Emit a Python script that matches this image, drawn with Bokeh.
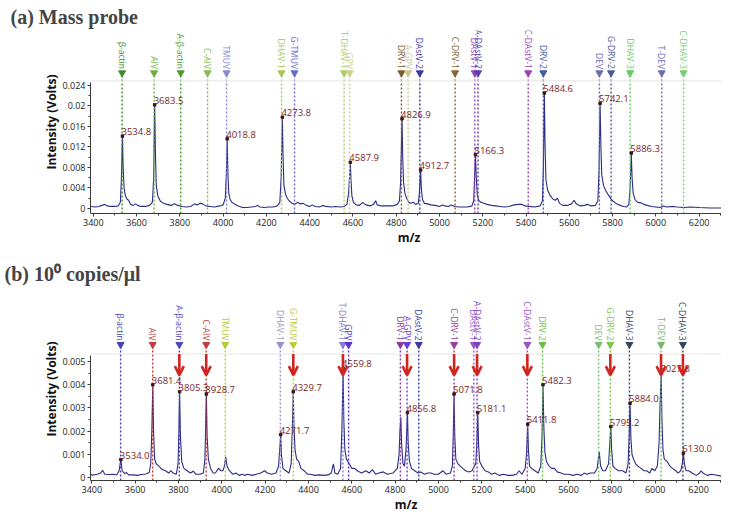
import numpy as np
from bokeh.plotting import figure
from bokeh.layouts import column
from bokeh.models import (ColumnDataSource, FixedTicker, Span, Arrow, OpenHead,
                          Range1d, NumeralTickFormatter, Title)
from bokeh.embed import file_html
from bokeh.resources import INLINE
from bokeh.core.properties import value

# ---------------- data ----------------
marker_names = ["β-actin", "AIV", "A-β-actin", "C-AIV", "TMUV", "DHAV-1", "G-TMUV",
                "T-DHAV-1", "GPV", "DRV-1", "A-GPV", "DAstV-2", "C-DRV-1", "DAstV-1",
                "A-DAstV-2", "C-DAstV-1", "DRV-2", "DEV", "G-DRV-2", "DHAV-3", "T-DEV",
                "C-DHAV-3"]
marker_mz = [3533, 3681, 3804, 3928, 4016, 4270, 4330, 4559, 4585, 4824, 4855, 4909,
             5072, 5163, 5178, 5410, 5480, 5739, 5793, 5881, 6027, 6128]

marker_colors_a = ["#3c8c28", "#6fae3c", "#4b9a2c", "#86b84e", "#8787d8", "#a6c552",
                   "#6b6bcf", "#a9cc63", "#cfd08a", "#7b5b2b", "#c9c78e", "#3b3ba6",
                   "#86652f", "#9440b4", "#5a3db0", "#9d3fb0", "#3a5ba3", "#6a6ab0",
                   "#4a5a95", "#5ccf5c", "#6b6bb4", "#6dd36d"]
marker_colors_b = ["#4a3fb5", "#c23a3a", "#4e4ab8", "#c23a3a", "#b5c83a", "#9e8fd0",
                   "#bccb3a", "#8a7ad0", "#5a32d4", "#8c3a9c", "#6a3ad4", "#3a3aa0",
                   "#9a3aa0", "#9a5ac8", "#7a44c4", "#9a52c8", "#6ac046", "#78c070",
                   "#76c84a", "#34465e", "#78b868", "#34465e"]

arrow_targets = ["A-β-actin", "C-AIV", "G-TMUV", "T-DHAV-1", "A-GPV", "C-DRV-1",
                 "A-DAstV-2", "C-DAstV-1", "G-DRV-2", "T-DEV", "C-DHAV-3"]

peak_a_mz = [3534.8, 3683.5, 4018.8, 4273.8, 4587.9, 4826.9, 4912.7, 5166.3, 5484.6,
             5742.1, 5886.3]
peak_a_v = [0.0141, 0.0202, 0.0136, 0.0178, 0.0090, 0.0175, 0.0075, 0.0105, 0.0225,
            0.0205, 0.0108]

peak_b_mz = [3534.0, 3681.4, 3805.3, 3928.7, 4271.7, 4329.7, 4559.8, 4856.8, 5071.8,
             5181.1, 5411.8, 5482.3, 5795.2, 5884.0, 6027.8, 6130.0]
peak_b_v = [0.00078, 0.0040, 0.0037, 0.0036, 0.00185, 0.0037, 0.0047, 0.0028, 0.0036,
            0.0028, 0.0023, 0.0040, 0.0022, 0.0032, 0.0045, 0.00105]

spec_a_mz = [3390, 3410, 3425, 3440, 3452, 3465, 3480, 3500, 3515, 3525, 3530, 3534.8,
             3538, 3542, 3548, 3556, 3563, 3572, 3585, 3595, 3605, 3620, 3640, 3660,
             3673, 3679, 3683.5, 3687, 3691, 3698, 3710, 3725, 3740, 3760, 3775, 3790,
             3810, 3830, 3850, 3868, 3880, 3895, 3905, 3920, 3940, 3960, 3985, 4000,
             4010, 4015, 4018.8, 4022, 4026, 4032, 4040, 4055, 4070, 4090, 4110, 4130,
             4150, 4158, 4170, 4190, 4210, 4230, 4250, 4262, 4268, 4273.8, 4277, 4281,
             4288, 4296, 4305, 4318, 4330, 4345, 4355, 4370, 4385, 4400, 4412, 4425,
             4445, 4460, 4475, 4500, 4520, 4540, 4560, 4572, 4580, 4587.9, 4591, 4595,
             4602, 4615, 4630, 4645, 4660, 4680, 4695, 4705, 4712, 4730, 4760, 4785,
             4805, 4815, 4820, 4826.9, 4830, 4834, 4840, 4848, 4858, 4866, 4880, 4890,
             4902, 4907, 4912.7, 4916, 4921, 4930, 4945, 4960, 4980, 5000, 5015, 5025,
             5040, 5055, 5070, 5090, 5110, 5130, 5150, 5158, 5162, 5166.3, 5170, 5175,
             5182, 5192, 5205, 5220, 5240, 5260, 5280, 5300, 5320, 5345, 5365, 5380,
             5395, 5415, 5440, 5465, 5476, 5480, 5484.6, 5488, 5492, 5500, 5512, 5525,
             5535, 5545, 5555, 5570, 5590, 5610, 5622, 5632, 5650, 5670, 5685, 5700,
             5720, 5732, 5737, 5742.1, 5746, 5750, 5758, 5768, 5778, 5790, 5800, 5815,
             5830, 5850, 5865, 5875, 5881, 5886.3, 5890, 5895, 5903, 5915, 5930, 5945,
             5960, 5980, 6000, 6020, 6035, 6050, 6080, 6100, 6130, 6160, 6200, 6250,
             6300, 6331]
spec_a_v = [0.0004, 0.0003, 0.0004, 0.0006, 0.0008, 0.0005, 0.0004, 0.0004, 0.0005,
            0.0012, 0.0060, 0.0141, 0.0080, 0.0040, 0.0025, 0.0018, 0.0016, 0.0008,
            0.0006, 0.0009, 0.0006, 0.0004, 0.0004, 0.0006, 0.0012, 0.0060, 0.0202,
            0.0110, 0.0045, 0.0025, 0.0014, 0.0010, 0.0008, 0.0006, 0.0009, 0.0006,
            0.0004, 0.0003, 0.0004, 0.0009, 0.0007, 0.0010, 0.0009, 0.0005, 0.0004,
            0.0003, 0.0005, 0.0007, 0.0020, 0.0070, 0.0136, 0.0070, 0.0030, 0.0018,
            0.0012, 0.0008, 0.0005, 0.0002, 0.0002, 0.0003, 0.0004, 0.0006, 0.0003,
            0.0002, 0.0003, 0.0003, 0.0005, 0.0012, 0.0060, 0.0178, 0.0100, 0.0045,
            0.0028, 0.0020, 0.0015, 0.0010, 0.0008, 0.0012, 0.0009, 0.0010, 0.0006,
            0.0004, 0.0007, 0.0004, 0.0003, 0.0006, 0.0004, 0.0003, 0.0004, 0.0003,
            0.0004, 0.0008, 0.0030, 0.0090, 0.0055, 0.0025, 0.0012, 0.0007, 0.0006,
            0.0012, 0.0007, 0.0005, 0.0008, 0.0015, 0.0007, 0.0005, 0.0005, 0.0005,
            0.0008, 0.0015, 0.0050, 0.0175, 0.0100, 0.0050, 0.0030, 0.0020, 0.0012,
            0.0010, 0.0012, 0.0008, 0.0010, 0.0030, 0.0075, 0.0040, 0.0018, 0.0010,
            0.0009, 0.0007, 0.0006, 0.0004, 0.0007, 0.0005, 0.0004, 0.0007, 0.0004,
            0.0003, 0.0003, 0.0003, 0.0005, 0.0015, 0.0060, 0.0105, 0.0060, 0.0025,
            0.0015, 0.0012, 0.0010, 0.0008, 0.0006, 0.0005, 0.0004, 0.0003, 0.0004,
            0.0007, 0.0008, 0.0008, 0.0005, 0.0004, 0.0003, 0.0005, 0.0015, 0.0080,
            0.0225, 0.0120, 0.0055, 0.0035, 0.0025, 0.0018, 0.0016, 0.0020, 0.0010,
            0.0006, 0.0006, 0.0009, 0.0016, 0.0009, 0.0005, 0.0006, 0.0008, 0.0005,
            0.0006, 0.0015, 0.0070, 0.0205, 0.0120, 0.0065, 0.0045, 0.0035, 0.0028,
            0.0020, 0.0015, 0.0010, 0.0007, 0.0004, 0.0003, 0.0008, 0.0040, 0.0108,
            0.0060, 0.0030, 0.0018, 0.0012, 0.0011, 0.0008, 0.0006, 0.0004, 0.0003,
            0.0002, 0.0005, 0.0003, 0.0004, 0.0003, 0.0002, 0.0003, 0.0002, 0.0001,
            0.0001, 0.0001]

spec_b_mz = [3394, 3410, 3425, 3440, 3450, 3460, 3480, 3500, 3515, 3526, 3534.0, 3540,
             3550, 3560, 3570, 3590, 3610, 3630, 3650, 3665, 3672, 3677, 3681.4, 3685,
             3690, 3697, 3710, 3725, 3740, 3755, 3765, 3775, 3790, 3798, 3802, 3805.3,
             3809, 3815, 3825, 3840, 3855, 3868, 3880, 3900, 3915, 3922, 3925, 3928.7,
             3932, 3938, 3948, 3960, 3970, 3985, 3995, 4005, 4012, 4018, 4024, 4035,
             4050, 4065, 4080, 4095, 4105, 4120, 4140, 4160, 4180, 4198, 4210, 4230,
             4250, 4262, 4267, 4271.7, 4275, 4282, 4295, 4310, 4320, 4325, 4329.7, 4333,
             4338, 4345, 4355, 4365, 4380, 4395, 4410, 4430, 4450, 4470, 4490, 4505,
             4515, 4522, 4535, 4548, 4554, 4559.8, 4563, 4568, 4575, 4588, 4600, 4612,
             4625, 4645, 4665, 4680, 4695, 4710, 4725, 4745, 4765, 4790, 4810, 4818,
             4822, 4826, 4830, 4836, 4843, 4850, 4856.8, 4860, 4866, 4875, 4890, 4905,
             4918, 4935, 4950, 4965, 4980, 5000, 5020, 5035, 5055, 5064, 5068, 5071.8,
             5075, 5080, 5090, 5100, 5112, 5125, 5140, 5155, 5165, 5172, 5177, 5181.1,
             5185, 5190, 5200, 5215, 5230, 5245, 5260, 5280, 5300, 5320, 5340, 5360,
             5372, 5385, 5400, 5406, 5411.8, 5415, 5420, 5430, 5445, 5460, 5472, 5478,
             5482.3, 5486, 5491, 5498, 5510, 5522, 5535, 5548, 5565, 5580, 5600, 5620,
             5640, 5660, 5672, 5685, 5700, 5720, 5732, 5742, 5748, 5758, 5770, 5785,
             5790, 5795.2, 5799, 5805, 5815, 5830, 5850, 5865, 5875, 5880, 5884.0, 5888,
             5893, 5900, 5910, 5920, 5935, 5948, 5960, 5975, 5985, 5998, 6010, 6018,
             6022, 6027.8, 6031, 6036, 6042, 6055, 6068, 6080, 6095, 6105, 6118, 6125,
             6130.0, 6135, 6142, 6155, 6170, 6190, 6205, 6212, 6220, 6240, 6260, 6280,
             6300, 6324]
spec_b_v = [0.00012, 0.00012, 0.00015, 0.00020, 0.00032, 0.00015, 0.00014, 0.00015,
            0.00012, 0.00030, 0.00078, 0.00030, 0.00018, 0.00022, 0.00012, 0.00012,
            0.00010, 0.00014, 0.00016, 0.00022, 0.0006, 0.0020, 0.0040, 0.0020, 0.0008,
            0.0006, 0.0005, 0.00035, 0.00030, 0.00020, 0.00030, 0.00020, 0.00015, 0.0006,
            0.0020, 0.0037, 0.0018, 0.0007, 0.0004, 0.00030, 0.00020, 0.00028, 0.00015,
            0.00015, 0.00020, 0.0008, 0.0020, 0.0036, 0.0018, 0.0008, 0.0004, 0.0002,
            0.0002, 0.0004, 0.0003, 0.0003, 0.0005, 0.0009, 0.0005, 0.0003, 0.00015,
            0.0002, 0.0001, 0.00015, 0.0001, 0.00015, 0.0001, 0.00015, 0.0002, 0.0003,
            0.0002, 0.00015, 0.0002, 0.0005, 0.0012, 0.00185, 0.0010, 0.0004, 0.0003,
            0.0002, 0.0006, 0.0020, 0.0037, 0.0022, 0.0012, 0.0008, 0.0007, 0.0004,
            0.0003, 0.00015, 0.00015, 0.0001, 0.00012, 0.0001, 0.00012, 0.0002, 0.0006,
            0.0002, 0.00015, 0.0004, 0.0020, 0.0047, 0.0025, 0.0012, 0.0008, 0.0006,
            0.0004, 0.0004, 0.0003, 0.0002, 0.0003, 0.0002, 0.00035, 0.00015, 0.0002,
            0.00025, 0.00015, 0.0002, 0.0004, 0.0010, 0.0020, 0.0026, 0.0014, 0.0006,
            0.0005, 0.0012, 0.0028, 0.0015, 0.0007, 0.0004, 0.0003, 0.0002, 0.00025,
            0.00015, 0.0002, 0.0002, 0.00015, 0.00015, 0.0003, 0.00015, 0.0002, 0.0005,
            0.0018, 0.0036, 0.0018, 0.0008, 0.0006, 0.0005, 0.0004, 0.0003, 0.00025,
            0.0003, 0.0005, 0.0006, 0.0015, 0.0028, 0.0014, 0.0007, 0.0005, 0.0003,
            0.00025, 0.00015, 0.0002, 0.0001, 0.00015, 0.0001, 0.0001, 0.00015, 0.0003,
            0.00015, 0.0004, 0.0010, 0.0023, 0.0012, 0.0005, 0.0004, 0.0003, 0.0002,
            0.0005, 0.0018, 0.0040, 0.0022, 0.0011, 0.0007, 0.0005, 0.0004, 0.0004,
            0.00025, 0.0002, 0.00015, 0.00015, 0.0001, 0.00015, 0.0001, 0.0002, 0.00015,
            0.0002, 0.0002, 0.0004, 0.0011, 0.0005, 0.0003, 0.0003, 0.0006, 0.0014,
            0.0022, 0.0012, 0.0005, 0.0004, 0.0003, 0.0003, 0.0002, 0.0006, 0.0018,
            0.0032, 0.0017, 0.0010, 0.0008, 0.0006, 0.0005, 0.0004, 0.0003, 0.0003,
            0.0002, 0.0004, 0.0003, 0.0005, 0.0015, 0.0030, 0.0045, 0.0025, 0.0012,
            0.0008, 0.0007, 0.0005, 0.0004, 0.0003, 0.0002, 0.0003, 0.0006, 0.00105,
            0.0006, 0.0003, 0.0003, 0.0002, 0.0001, 0.0002, 0.0003, 0.0002, 0.0001,
            0.00015, 0.00012, 0.00008, 0.00008]

x_ticks = [3400, 3600, 3800, 4000, 4200, 4400, 4600, 4800, 5000, 5200, 5400, 5600,
           5800, 6000, 6200]
y_ticks_a = [0, 0.004, 0.008, 0.012, 0.016, 0.02, 0.024]
y_ticks_b = [0, 0.001, 0.002, 0.003, 0.004, 0.005]

SPEC_COLOR = "#2b2b84"
LABEL_COLOR = "#7a2626"
FONT = "Open Sans"


def make_panel(title, xr, yr, fw, fh, bl, spec_mz, spec_v, pk_mz, pk_v, colors,
               yticks, ystep_minor, axis_top, top_line, tri_y, lab_y, arrows=None,
               arrow_y=None, border_bottom=30, title_standoff=4, spacer=None):
    p = figure(frame_width=fw, frame_height=fh, output_backend="svg",
               toolbar_location=None, x_range=Range1d(*xr), y_range=Range1d(*yr),
               min_border_left=bl, min_border_right=0, min_border_top=0,
               min_border_bottom=border_bottom, title=None)
    p.outline_line_color = None
    p.xgrid.visible = False
    p.ygrid.visible = False
    p.background_fill_color = "white"

    if spacer is not None:
        p.add_layout(Title(text=" ", text_font_size=spacer, standoff=0), "above")
    p.add_layout(Title(text=title, text_font="Liberation Serif",
                       text_font_style="bold", text_font_size="20px", align="left",
                       offset=-bl + 4, standoff=title_standoff), "above")

    # top light line
    p.add_layout(Span(location=top_line, dimension="width", line_color="#e4e4e4",
                      line_width=1))

    # spectrum
    p.line(spec_mz, spec_v, line_color=SPEC_COLOR, line_width=1.1)

    # marker lines, triangles, labels
    src = ColumnDataSource(dict(x=marker_mz, name=marker_names, c=colors,
                                y0=[yr[0]] * len(marker_mz),
                                ty=[tri_y] * len(marker_mz),
                                ly=[lab_y] * len(marker_mz)))
    p.segment(x0="x", y0="y0", x1="x", y1="ty", line_color="c", line_dash="2 2",
              line_width=1.4, source=src)
    p.scatter(x="x", y="ty", marker="inverted_triangle", size=7, fill_color="c",
              line_color="c", source=src)
    p.text(x="x", y="ly", text="name", angle=-np.pi / 2, text_align="right",
           text_baseline="middle", text_font=value(FONT), text_font_size="8.5px",
           text_color="c", source=src)

    # peak labels
    psrc = ColumnDataSource(dict(x=pk_mz, y=pk_v, t=[f"{m:.1f}" for m in pk_mz]))
    p.scatter(x="x", y="y", marker="square", size=2.5, color="#3a1818", source=psrc)
    p.text(x="x", y="y", text="t", text_align="left", text_baseline="bottom",
           x_offset=-1, y_offset=-1, text_font=value(FONT), text_font_size="9.5px",
           text_color=LABEL_COLOR, source=psrc)

    if arrows is not None:
        ax = [marker_mz[marker_names.index(n)] for n in arrows]
        asrc = ColumnDataSource(dict(xs=ax, ys=[arrow_y[0]] * len(ax),
                                     ye=[arrow_y[1]] * len(ax)))
        p.add_layout(Arrow(end=OpenHead(size=9, line_width=2.6, line_color="#d0241e"),
                           x_start="xs", y_start="ys", x_end="xs", y_end="ye",
                           line_width=2.6, line_color="#d0241e", source=asrc))

    # axes
    p.xaxis.ticker = FixedTicker(ticks=x_ticks,
                                 minor_ticks=list(range(3400, 6400, 100)))
    p.yaxis.ticker = FixedTicker(ticks=yticks,
                                 minor_ticks=[float(v) for v in
                                              np.arange(0, yticks[-1] + 1e-9,
                                                        ystep_minor)])
    p.yaxis.formatter = NumeralTickFormatter(format="0.[000]")
    p.yaxis.bounds = (yr[0], axis_top)
    for ax_ in (p.xaxis[0], p.yaxis[0]):
        ax_.axis_line_color = "#3a3a3a"
        ax_.major_tick_line_color = "#3a3a3a"
        ax_.minor_tick_line_color = "#3a3a3a"
        ax_.major_tick_out = 3
        ax_.major_tick_in = 0
        ax_.minor_tick_out = 2
        ax_.minor_tick_in = 0
        ax_.major_label_text_font = FONT
        ax_.major_label_text_font_size = "9px"
        ax_.major_label_text_color = "#222222"
        ax_.major_label_standoff = 2
        ax_.axis_label_text_font = FONT
        ax_.axis_label_text_font_style = "bold"
        ax_.axis_label_text_font_size = "12px"
        ax_.axis_label_text_color = "#111111"
        ax_.axis_label_standoff = 0
    p.xaxis.axis_label = "m/z"
    p.yaxis.axis_label = "Intensity (Volts)"
    return p


# panel (a)
pa = make_panel("(a) Mass probe", (3387, 6331), (-0.00098, 0.0347), 637, 183, 84,
                spec_a_mz, spec_a_v, peak_a_mz, peak_a_v, marker_colors_a,
                y_ticks_a, 0.002, 0.0246, 0.02488, 0.02644, 0.0272,
                border_bottom=47, title_standoff=6)

# panel (b)
pb = make_panel("(b) 10⁰ copies/μl", (3394, 6306), (-0.00012, 0.00775), 631, 183, 90,
                spec_b_mz, spec_b_v, peak_b_mz, peak_b_v, marker_colors_b,
                y_ticks_b, 0.0005, 0.00525, 0.00532, 0.00573, 0.00590,
                arrows=arrow_targets, arrow_y=(0.00532, 0.00441), border_bottom=20,
                title_standoff=1, spacer="9px")

layout = column(pa, pb, spacing=0)
open("out.html", "w").write(file_html(layout, INLINE))
